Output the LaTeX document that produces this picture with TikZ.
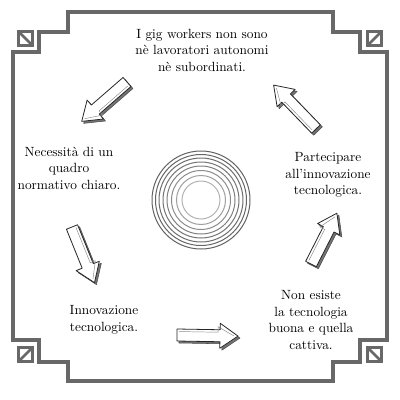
\documentclass[tikz,border=0pt]{standalone}
\usepackage{tikz}
\usepackage{xcolor}

\definecolor{framegray}{HTML}{686868}

\tikzset{
  frameline/.style={draw=framegray, line width=2.6pt, line join=miter},
  cornerbox/.style={draw=framegray, line width=2.1pt},
  ringline/.style={line width=0.75pt},
  arrowside/.style={fill=black!55, draw=black!70, line width=0.4pt, line join=round},
  arrowtop/.style={fill=white, draw=black!85, line width=0.6pt, line join=round},
  bubbletext/.style={align=center, font=\fontsize{10}{12.4}\selectfont, inner sep=0pt}
}

% block arrow: #1 tail coordinate, #2 angle, #3 length
\newcommand{\fatarrow}[3]{%
  \filldraw[arrowside, shift={(#1)}, shift={(2,2)}, rotate=#2]
    (0,-6) -- ({#3-18},-6) -- ({#3-18},-12.5) -- (#3,0) -- ({#3-18},12.5) -- ({#3-18},6) -- (0,6) -- cycle;
  \filldraw[arrowtop, shift={(#1)}, rotate=#2]
    (0,-6) -- ({#3-18},-6) -- ({#3-18},-12.5) -- (#3,0) -- ({#3-18},12.5) -- ({#3-18},6) -- (0,6) -- cycle;
  \draw[black!45, line width=0.35pt, shift={(#1)}, rotate=#2]
    (2,-3.5) -- ({#3-20},-3.5) -- ({#3-20},-9) -- ({#3-4},0);
}

\begin{document}
\begin{tikzpicture}

\useasboundingbox (0,0) rectangle (300pt,-300pt);

\begin{scope}[x=0.75pt, y=-0.75pt]

% -------------------------
% Frame
% -------------------------
\draw[frameline] (68,12) -- (333,12) -- (333,32) -- (360,32) -- (360,52) -- (387,52)
  -- (387,340) -- (360,340) -- (360,362) -- (333,362) -- (333,381)
  -- (68,381) -- (68,362) -- (39,362) -- (39,340) -- (13,340)
  -- (13,52) -- (39,52) -- (39,32) -- (68,32) -- cycle;

% corner boxes
\draw[cornerbox] (18.5,31.5) rectangle (32.5,45.5) (18.5,31.5) -- (32.5,45.5);
\draw[cornerbox] (367.5,31.5) rectangle (381.5,45.5) (367.5,45.5) -- (381.5,31.5);
\draw[cornerbox] (18.5,347.5) rectangle (32.5,361.5) (18.5,361.5) -- (32.5,347.5);
\draw[cornerbox] (367.5,347.5) rectangle (381.5,361.5) (367.5,347.5) -- (381.5,361.5);

% -------------------------
% Rings in the middle
% -------------------------
\foreach \r/\g in {49/62, 45.5/60, 42/57, 38/54, 34/50, 29.5/45, 24.5/38, 19/30}
  \draw[ringline, black!\g] (201,200) circle (\r);

% -------------------------
% Texts
% -------------------------
\node[bubbletext] (txtGig) at (202,50) {I gig workers non sono\\nè lavoratori autonomi\\nè subordinati.};
\node[bubbletext] (txtQuadro) at (69,168) {Necessità di un\\quadro\\normativo chiaro.};
\node[bubbletext] (txtPartec) at (328,175) {Partecipare\\all'innovazione\\tecnologica.};
\node[bubbletext] (txtInnov) at (104,320) {Innovazione\\tecnologica.};
\node[bubbletext] (txtTecno) at (311,320) {Non esiste\\la tecnologia\\buona e quella\\cattiva.};

% -------------------------
% Arrows
% -------------------------
\coordinate (tailGig) at (127,82);
\coordinate (tailQuadro) at (72,227);
\coordinate (tailInnov) at (177,335);
\coordinate (tailTecno) at (311,264);
\coordinate (tailPartec) at (316,129);

\fatarrow{tailGig}{221}{60}
\fatarrow{tailQuadro}{-68}{60}
\fatarrow{tailInnov}{-1}{61}
\fatarrow{tailTecno}{63}{57}
\fatarrow{tailPartec}{134}{61}

\end{scope}
\end{tikzpicture}
\end{document}
